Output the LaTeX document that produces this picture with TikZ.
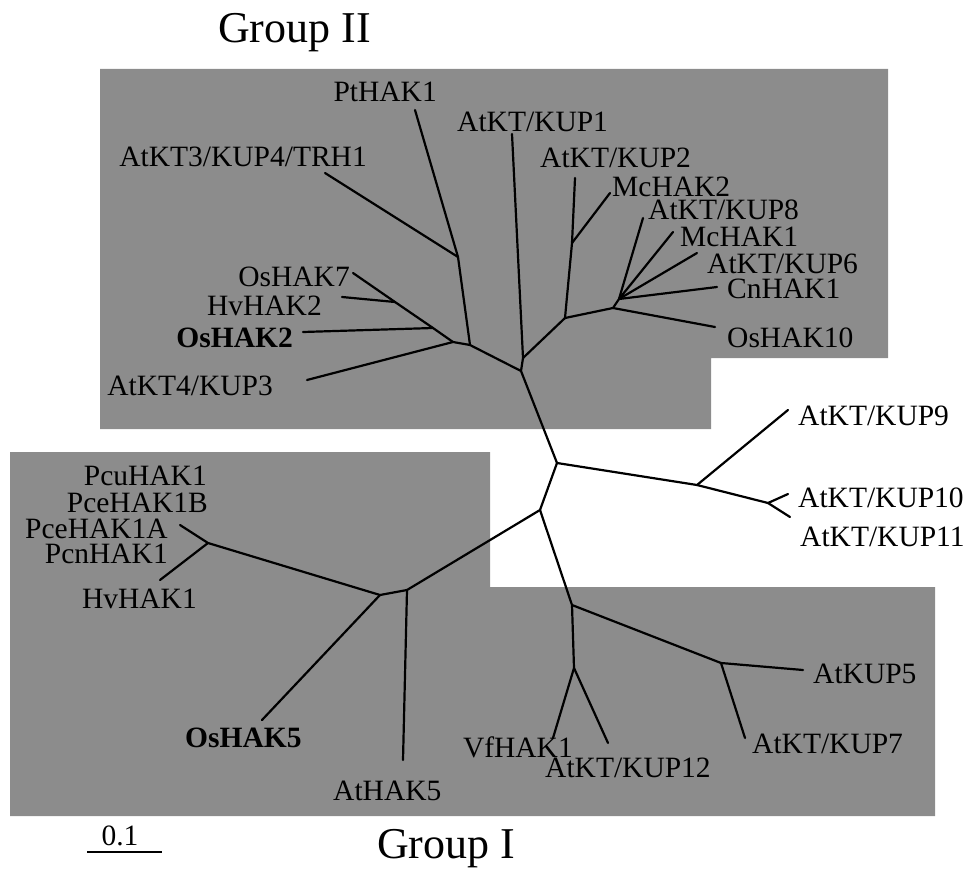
\documentclass[tikz,border=0pt]{standalone}
\usepackage{fontspec}
\setmainfont{Liberation Serif}
\definecolor{hatch}{RGB}{140,140,140}
\begin{document}
\begin{tikzpicture}[x=1pt,y=-1pt,
  lbl/.style={inner sep=0pt, font=\fontsize{29.5}{30}\selectfont, text height=0.68em, text depth=0pt},
  ttl/.style={inner sep=0pt, font=\fontsize{44}{48}\selectfont},
  branch/.style={line width=2.2pt, line cap=round, line join=round},
  grp/.style={fill=hatch, draw=none}]
\useasboundingbox (0,0) rectangle (971,877);

% shaded group areas
\fill[grp] (100,69) -- (888,69) -- (888,358) -- (711,358) -- (711,429) -- (100,429) -- cycle;
\fill[grp] (10,452) -- (490,452) -- (490,587) -- (935,587) -- (935,816) -- (10,816) -- cycle;

% titles
\node[ttl, anchor=base west] (g2) at (218,43) {Group II};
\node[ttl, anchor=base west] (g1) at (377,858) {Group I};

% scale bar
\coordinate (s1) at (87,852);
\coordinate (s2) at (162,852);
\draw[line width=2pt] (s1) -- (s2);
\node[lbl, anchor=base] (sc) at (120,845) {0.1};

% ---- internal nodes ----
\coordinate (F) at (521,371);
\coordinate (B) at (470,345);
\coordinate (A) at (458,257);
\coordinate (E) at (453,342);
\coordinate (D) at (433,328);
\coordinate (C) at (395,302);
\coordinate (G) at (523,358);
\coordinate (I) at (565,318);
\coordinate (X) at (572,243);
\coordinate (J) at (613,308);
\coordinate (K) at (619,299);
\coordinate (L) at (557,463);
\coordinate (M) at (697,485);
\coordinate (N) at (768,503);
\coordinate (O) at (540,510);
\coordinate (U) at (407,590);
\coordinate (T) at (380,595);
\coordinate (S) at (208,543);
\coordinate (P) at (572,605);
\coordinate (Q) at (574,668);
\coordinate (R) at (721,663);

% ---- leaf ends ----
\coordinate (lPt) at (415,110);
\coordinate (lK3) at (325,173);
\coordinate (lOs7) at (353,273);
\coordinate (lHv2) at (342,297);
\coordinate (lOs2) at (303,332);
\coordinate (lK4) at (307,380);
\coordinate (lK1) at (512,134);
\coordinate (lK2) at (575,178);
\coordinate (lMc2) at (610,193);
\coordinate (lK8) at (643,218);
\coordinate (lMc1) at (673,232);
\coordinate (lK6) at (697,253);
\coordinate (lCn) at (717,287);
\coordinate (lOs10) at (715,327);
\coordinate (lK9) at (788,410);
\coordinate (lK10) at (788,494);
\coordinate (lK11) at (790,517);
\coordinate (lPA) at (180,525);
\coordinate (lHv1) at (160,580);
\coordinate (lOs5) at (262,720);
\coordinate (lAt5) at (403,760);
\coordinate (lVf) at (553,738);
\coordinate (lK12) at (608,743);
\coordinate (lK5) at (803,670);
\coordinate (lK7) at (745,738);

% ---- branches ----
\draw[branch] (F) -- (B) -- (A) -- (lPt);
\draw[branch] (A) -- (lK3);
\draw[branch] (B) -- (E) -- (lK4);
\draw[branch] (E) -- (D) -- (lOs2);
\draw[branch] (D) -- (C) -- (lOs7);
\draw[branch] (C) -- (lHv2);
\draw[branch] (F) -- (G) -- (lK1);
\draw[branch] (G) -- (I) -- (X) -- (lK2);
\draw[branch] (X) -- (lMc2);
\draw[branch] (I) -- (J) -- (K) -- (lK8);
\draw[branch] (K) -- (lMc1);
\draw[branch] (K) -- (lK6);
\draw[branch] (K) -- (lCn);
\draw[branch] (J) -- (lOs10);
\draw[branch] (F) -- (L) -- (M) -- (lK9);
\draw[branch] (M) -- (N) -- (lK10);
\draw[branch] (N) -- (lK11);
\draw[branch] (L) -- (O) -- (U) -- (T) -- (S) -- (lPA);
\draw[branch] (S) -- (lHv1);
\draw[branch] (T) -- (lOs5);
\draw[branch] (U) -- (lAt5);
\draw[branch] (O) -- (P) -- (Q) -- (lVf);
\draw[branch] (Q) -- (lK12);
\draw[branch] (P) -- (R) -- (lK5);
\draw[branch] (R) -- (lK7);

% ---- labels: Group II ----
\node[lbl, anchor=base east] (tPt) at (437,102) {PtHAK1};
\node[lbl, anchor=base west] (tK1) at (457,132) {AtKT/KUP1};
\node[lbl, anchor=base east] (tK3) at (367,167) {AtKT3/KUP4/TRH1};
\node[lbl, anchor=base west] (tK2) at (540,168) {AtKT/KUP2};
\node[lbl, anchor=base west] (tMc2) at (612,197) {McHAK2};
\node[lbl, anchor=base west] (tK8) at (648,220) {AtKT/KUP8};
\node[lbl, anchor=base west] (tMc1) at (680,247) {McHAK1};
\node[lbl, anchor=base west] (tK6) at (707,273) {AtKT/KUP6};
\node[lbl, anchor=base west] (tCn) at (727,298) {CnHAK1};
\node[lbl, anchor=base west] (tOs10) at (727,347) {OsHAK10};
\node[lbl, anchor=base east] (tOs7) at (350,287) {OsHAK7};
\node[lbl, anchor=base east] (tHv2) at (322,315) {HvHAK2};
\node[lbl, anchor=base east] (tOs2) at (293,347) {\bfseries OsHAK2};
\node[lbl, anchor=base east] (tK4) at (273,395) {AtKT4/KUP3};

% ---- labels: KUP9-11 ----
\node[lbl, anchor=base west] (tK9) at (798,425) {AtKT/KUP9};
\node[lbl, anchor=base west] (tK10) at (798,507) {AtKT/KUP10};
\node[lbl, anchor=base west] (tK11) at (800,546) {AtKT/KUP11};

% ---- labels: Group I ----
\node[lbl, anchor=base east] (tPcu) at (207,485) {PcuHAK1};
\node[lbl, anchor=base east] (tPB) at (208,512) {PceHAK1B};
\node[lbl, anchor=base east] (tPA) at (168,538) {PceHAK1A};
\node[lbl, anchor=base east] (tPcn) at (168,563) {PcnHAK1};
\node[lbl, anchor=base east] (tHv1) at (197,608) {HvHAK1};
\node[lbl, anchor=base west] (tOs5) at (185,747) {\bfseries OsHAK5};
\node[lbl, anchor=base west] (tAt5) at (333,800) {AtHAK5};
\node[lbl, anchor=base east] (tVf) at (573,757) {VfHAK1};
\node[lbl, anchor=base west] (tK12) at (545,777) {AtKT/KUP12};
\node[lbl, anchor=base west] (tK7) at (752,753) {AtKT/KUP7};
\node[lbl, anchor=base west] (tK5) at (813,683) {AtKUP5};
\end{tikzpicture}
\end{document}
